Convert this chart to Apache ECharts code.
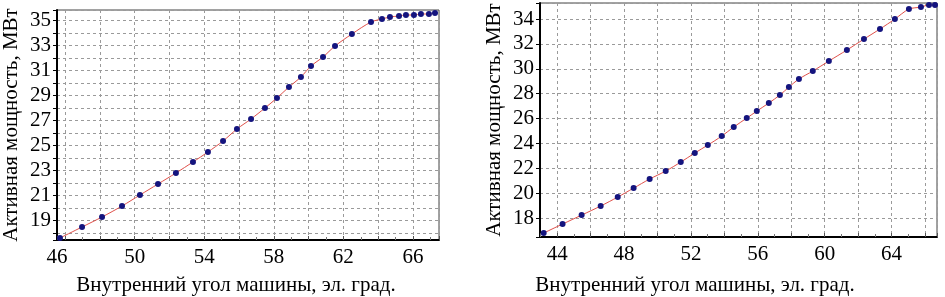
<!DOCTYPE html>
<html>
<head>
<meta charset="utf-8">
<script src="https://cdn.jsdelivr.net/npm/echarts@6/dist/echarts.min.js"></script>
<style>
  html, body { margin: 0; padding: 0; background: #fff; }
  #chart { width: 945px; height: 297px; }
</style>
</head>
<body>
<div id="chart"></div>
<script>
// left panel: angle (el. deg) vs active power (MW)
const leftAngle = [45.70, 46.97, 48.12, 49.27, 50.30, 51.34, 52.37, 53.35, 54.21, 55.08,
  55.88, 56.69, 57.49, 58.18, 58.87, 59.56, 60.14, 60.83, 61.52, 62.49,
  63.59, 64.22, 64.68, 65.20, 65.60, 66.06, 66.46, 66.92, 67.27];
const leftPower = [17.60, 18.48, 19.28, 20.16, 21.04, 21.92, 22.80, 23.68, 24.48, 25.36,
  26.32, 27.12, 28.00, 28.80, 29.68, 30.48, 31.36, 32.08, 32.96, 33.92,
  34.88, 35.12, 35.28, 35.36, 35.44, 35.44, 35.52, 35.52, 35.60];

// right panel
const rightAngle = [43.19, 44.32, 45.46, 46.60, 47.62, 48.57, 49.53, 50.49, 51.39, 52.23,
  53.01, 53.84, 54.56, 55.34, 55.94, 56.66, 57.32, 57.86, 58.46, 59.29,
  60.25, 61.33, 62.35, 63.31, 64.20, 65.04, 65.76, 66.24, 66.60];
const rightPower = [16.80, 17.52, 18.24, 18.97, 19.69, 20.41, 21.14, 21.78, 22.50, 23.23,
  23.87, 24.59, 25.32, 26.04, 26.60, 27.25, 27.89, 28.53, 29.18, 29.82,
  30.62, 31.51, 32.39, 33.20, 34.00, 34.80, 34.96, 35.13, 35.13];

const leftXLabels = [50, 54, 58, 62, 66];
const leftXMinLabel = '46';
const leftYLabels = [19, 21, 23, 25, 27, 29, 31, 33, 35];
const rightXLabels = [44, 48, 52, 56, 60, 64];
const rightYLabels = [18, 20, 22, 24, 26, 28, 30, 32, 34];

const xTitle = 'Внутренний угол машины, эл. град.';
const yTitle = 'Активная мощность, МВт';

const FONT = "'Liberation Serif', 'DejaVu Serif', serif";
const gridLine = { show: true, lineStyle: { color: '#9a9a9a', type: [3, 3], width: 1 } };

function xAxisFor(gridIndex, min, max, labels, minLabel) {
  return {
    type: 'value', gridIndex, min, max, splitNumber: 11,
    axisLine: { show: true, onZero: false, lineStyle: { color: '#000', width: 2 } },
    axisTick: { show: true, inside: true, length: 4, lineStyle: { color: '#555' } },
    minorTick: { show: true, splitNumber: 2, length: 3, lineStyle: { color: '#777' } },
    splitLine: gridLine,
    axisLabel: {
      color: '#000', fontFamily: FONT, fontSize: 21, margin: 7,
      formatter(v) {
        if (minLabel && v === min) return minLabel;
        return labels.includes(v) ? String(v) : '';
      },
    },
  };
}

function yAxisFor(gridIndex, min, max, labels, splitNumber) {
  return {
    type: 'value', gridIndex, min, max, splitNumber,
    name: yTitle, nameLocation: 'middle', nameGap: 35,
    nameTextStyle: { color: '#000', fontFamily: FONT, fontSize: 21 },
    axisLine: { show: true, onZero: false, lineStyle: { color: '#000', width: 2 } },
    axisTick: { show: true, length: 4, lineStyle: { color: '#000' } },
    splitLine: gridLine,
    axisLabel: {
      color: '#000', fontFamily: FONT, fontSize: 21, margin: 6,
      formatter(v) { return labels.includes(v) ? String(v) : ''; },
    },
  };
}

function seriesFor(index, xs, ys) {
  return {
    type: 'line', xAxisIndex: index, yAxisIndex: index,
    data: xs.map((x, i) => [x, ys[i]]),
    smooth: 0.3,
    symbol: 'circle', symbolSize: 6,
    lineStyle: { color: '#e0504a', width: 1 },
    itemStyle: { color: '#14147e' },
    z: 5,
  };
}

const chart = echarts.init(document.getElementById('chart'), null, { renderer: 'canvas' });
chart.setOption({
  animation: false,
  backgroundColor: '#fff',
  grid: [
    { left: 57, top: 10, width: 382, height: 230, show: true, borderColor: '#444', borderWidth: 1 },
    { left: 540, top: 3, width: 397, height: 234, show: true, borderColor: '#444', borderWidth: 1 },
  ],
  xAxis: [
    xAxisFor(0, 45.53, 67.5, leftXLabels, leftXMinLabel),
    xAxisFor(1, 42.97, 66.72, rightXLabels, null),
  ],
  yAxis: [
    yAxisFor(0, 17.44, 35.84, leftYLabels, 18),
    yAxisFor(1, 16.48, 35.29, rightYLabels, 9),
  ],
  series: [
    seriesFor(0, leftAngle, leftPower),
    seriesFor(1, rightAngle, rightPower),
  ],
  graphic: [
    { type: 'text', x: 236, y: 285, style: { text: xTitle, fontFamily: FONT, fontSize: 21, fill: '#000', textAlign: 'center', textVerticalAlign: 'middle' } },
    { type: 'text', x: 695, y: 285, style: { text: xTitle, fontFamily: FONT, fontSize: 21, fill: '#000', textAlign: 'center', textVerticalAlign: 'middle' } },
  ],
});
</script>
</body>
</html>
